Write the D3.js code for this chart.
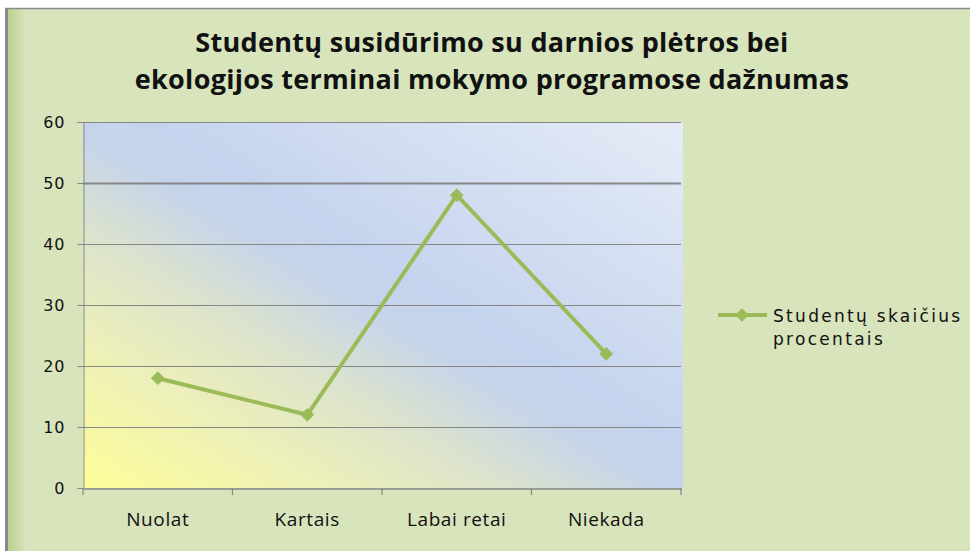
<!DOCTYPE html>
<html><head><meta charset="utf-8">
<script src="https://cdn.jsdelivr.net/npm/d3@7"></script>
<style>body{margin:0;background:#fff}svg{display:block}</style>
</head><body>
<svg id="c" width="970" height="551"></svg>
<script>
const categories = ["Nuolat", "Kartais", "Labai retai", "Niekada"];
const values = [18, 12, 48, 22];
const yTicks = [0, 10, 20, 30, 40, 50, 60];
const seriesName = ["Studentų skaičius", "procentais"];
const titleLines = ["Studentų susidūrimo su darnios plėtros bei", "ekologijos terminai mokymo programose dažnumas"];

const svg = d3.select("#c");
const defs = svg.append("defs");
const og = defs.append("linearGradient").attr("id","edge").attr("x1","0").attr("x2","1").attr("y1","0").attr("y2","0");
og.append("stop").attr("offset","0").attr("stop-color","#b5cc8a");
og.append("stop").attr("offset","0.022").attr("stop-color","#d8e4bc");
og.append("stop").attr("offset","1").attr("stop-color","#d8e4bc");

const pg = defs.append("linearGradient").attr("id","plotbg")
  .attr("gradientUnits","userSpaceOnUse")
  .attr("x1",83).attr("y1",488).attr("x2",409).attr("y2",-46);
[[0,"#fdfd98"],[0.2,"#edf0b8"],[0.35,"#dce3cc"],[0.48,"#c6d4ea"],[0.56,"#c5d4ee"],[1,"#e6ecf7"]]
  .forEach(([o,c]) => pg.append("stop").attr("offset",o).attr("stop-color",c));

// outer chart area
svg.append("rect").attr("x",5).attr("y",8).attr("width",970).attr("height",545).attr("fill","url(#edge)");
svg.append("line").attr("x1",6.5).attr("x2",6.5).attr("y1",8).attr("y2",551).attr("stroke","#8a8a8a").attr("stroke-width",3);
svg.append("line").attr("x1",5).attr("x2",970).attr("y1",8.5).attr("y2",8.5).attr("stroke","#8a8a8a").attr("stroke-width",1.5);

const x = d3.scaleBand().domain(categories).range([83, 681]);
const y = d3.scaleLinear().domain([0, 60]).range([488, 122]);

svg.append("rect").attr("x",83).attr("y",122).attr("width",600).attr("height",366).attr("fill","url(#plotbg)");

// gridlines
svg.append("g").selectAll("line").data(yTicks.filter(d=>d>0)).join("line")
  .attr("x1",83).attr("x2",681).attr("y1",d=>Math.round(y(d))+0.5).attr("y2",d=>Math.round(y(d))+0.5)
  .attr("stroke","#868686").attr("stroke-width",d=>d===50?2:1);

// y axis
const ya = svg.append("g").attr("transform","translate(83.5,0)")
  .call(d3.axisLeft(y).tickValues(yTicks).tickSize(6).tickPadding(12));
ya.select(".domain").attr("stroke","#868686");
ya.selectAll(".tick line").attr("stroke","#868686");
ya.selectAll("text").attr("font-family","DejaVu Sans").attr("font-size",16).attr("letter-spacing",1).attr("fill","#111");

// x axis
const xa = svg.append("g").attr("transform","translate(0,488.5)")
  .call(d3.axisBottom(x).tickSize(0).tickPadding(24));
xa.select(".domain").attr("stroke","#868686").attr("stroke-width",1.5);
xa.selectAll("text").attr("font-family","Open Sans").attr("font-size",19).attr("letter-spacing",0.6).attr("fill","#111");
svg.append("g").selectAll("line").data(categories.concat(["_end"])).join("line")
  .attr("x1",d=>d==="_end"?681:x(d)).attr("x2",d=>d==="_end"?681:x(d))
  .attr("y1",488).attr("y2",495).attr("stroke","#868686").attr("stroke-width",1.2);

// line
const cx = d => x(d) + x.bandwidth()/2;
const line = d3.line().x((d,i)=>cx(categories[i])).y(d=>y(d));
svg.append("path").datum(values).attr("d",line).attr("fill","none")
  .attr("stroke","#9bbb59").attr("stroke-width",4).attr("stroke-linejoin","round");
const diamond = d3.symbol().type(d3.symbolDiamond2).size(120);
svg.append("g").selectAll("path").data(values).join("path")
  .attr("transform",(d,i)=>`translate(${cx(categories[i])},${y(d)})`)
  .attr("d",diamond).attr("fill","#9bbb59");

// title
svg.append("g").selectAll("text").data(titleLines).join("text")
  .attr("x",492).attr("y",(d,i)=>52+i*37).attr("text-anchor","middle")
  .attr("font-family","Open Sans").attr("font-weight","bold").attr("font-size",27)
  .attr("letter-spacing",0.3)
  .attr("fill","#111").text(d=>d);

// legend
svg.append("line").attr("x1",718).attr("x2",767).attr("y1",315).attr("y2",315)
  .attr("stroke","#9bbb59").attr("stroke-width",4);
svg.append("path").attr("transform","translate(742,315)").attr("d",diamond).attr("fill","#9bbb59");
svg.append("g").selectAll("text").data(seriesName).join("text")
  .attr("x",773).attr("y",(d,i)=>322+i*23)
  .attr("font-family","DejaVu Sans").attr("font-size",17).attr("letter-spacing",2.3)
  .attr("fill","#111").text(d=>d);
</script>
</body></html>
